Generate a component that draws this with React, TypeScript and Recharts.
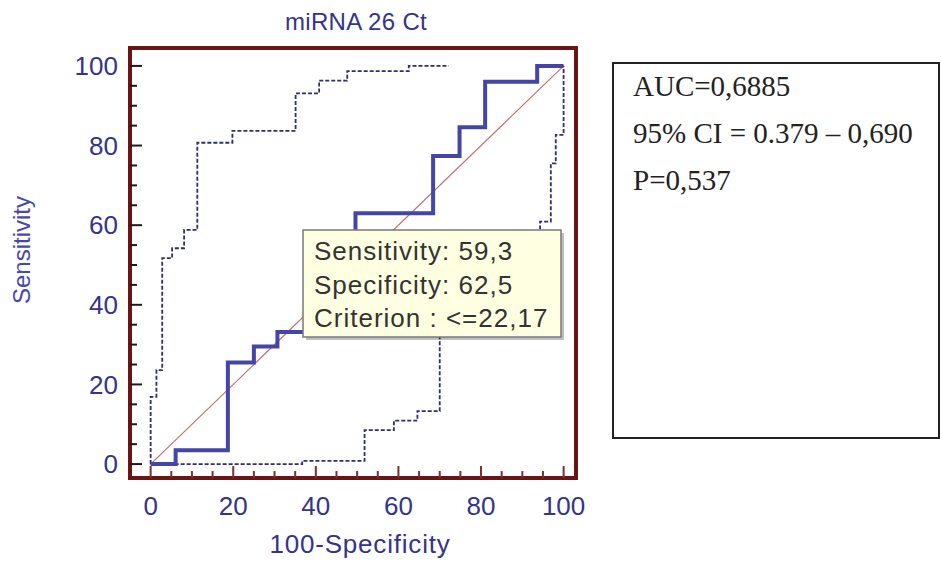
import { ComposedChart, Line, XAxis, YAxis, ReferenceArea, ReferenceLine, Label } from 'recharts';

// ROC curve (100-Specificity, Sensitivity)
const rocFpr = [0, 6.05, 18.7, 25, 30.7, 37.5, 43.7, 49.6, 68.4, 74.8, 81, 93.6, 100];
const rocSens = [0, 3.5, 25.5, 29.5, 33.2, 40.7, 48, 63, 77.4, 84.6, 96, 100, 100];

// upper 95% confidence bound (vertical step first)
const upperFpr = [0, 1.4, 2.8, 5.2, 8.1, 11.3, 19.8, 35.1, 40.8, 47.6, 62.5, 72.2];
const upperSens = [0, 16.9, 23.6, 51.7, 54.2, 58.8, 80.7, 83.7, 93.1, 96.3, 98.7, 100];

// lower 95% confidence bound (horizontal step first)
const lowerFpr = [0, 36.7, 51.8, 58.9, 64.6, 70, 94.3, 96.9, 98.1, 100];
const lowerSens = [0, 0.8, 8.5, 10.9, 13.3, 45, 60.9, 75.5, 82.7, 100];

const diagFpr = [0, 100];
const diagSens = [0, 100];

const majorTicks = [0, 20, 40, 60, 80, 100];
const minorTicks = [5, 10, 15, 25, 30, 35, 45, 50, 55, 65, 70, 75, 85, 90, 95];

const tooltipLines = ['Sensitivity: 59,3', 'Specificity: 62,5', 'Criterion : <=22,17'];
const statsLines = ['AUC=0,6885', '95% CI = 0.379 \u2013 0,690', 'P=0,537'];

const xDomain: [number, number] = [-5, 103];
const yDomain: [number, number] = [-3.5, 104.5];

const toPoints = (xs: number[], ys: number[]) => xs.map((x, i) => ({ x, y: ys[i] }));

const SANS = '"Liberation Sans", Arial, sans-serif';
const SERIF = '"Liberation Serif", "Times New Roman", serif';
const NAVY = '#34348a';
const FRAME = '#6a1414';

// inward tick lengths, in axis units (~12px major, ~7px minor)
const MAJOR_X = 2.9;
const MINOR_X = 1.7;
const MAJOR_Y = 3.0;
const MINOR_Y = 1.75;

function Title() {
  return (
    <text x={356} y={30} textAnchor="middle" fontFamily={SANS} fontSize={24} fill={NAVY} letterSpacing={0.3}>
      miRNA 26 Ct
    </text>
  );
}

export default function App() {
  const roc = toPoints(rocFpr, rocSens);
  const upper = toPoints(upperFpr, upperSens);
  const lower = toPoints(lowerFpr, lowerSens);
  const diag = toPoints(diagFpr, diagSens);

  const xTickMarks = [
    ...majorTicks.map((v) => ({ v, len: MAJOR_Y })),
    ...minorTicks.map((v) => ({ v, len: MINOR_Y })),
  ];
  const yTickMarks = [
    ...majorTicks.map((v) => ({ v, len: MAJOR_X })),
    ...minorTicks.map((v) => ({ v, len: MINOR_X })),
  ];

  return (
    <div style={{ position: 'absolute', left: 0, top: 0, width: 941, height: 567, background: '#fff' }}>
      <ComposedChart width={941} height={567} margin={{ top: 48, right: 365, bottom: 0, left: 0 }}>
        <XAxis
          type="number"
          dataKey="x"
          domain={xDomain}
          ticks={majorTicks}
          height={89}
          tickSize={10}
          tickMargin={9}
          tickLine={false}
          axisLine={false}
          tick={{ fill: NAVY, fontSize: 26, fontFamily: SANS }}
          allowDataOverflow
        >
          <Label
            content={() => (
              <text x={360} y={553} textAnchor="middle" fontFamily={SANS} fontSize={26} fill={NAVY} letterSpacing={0.8}>
                100-Specificity
              </text>
            )}
          />
        </XAxis>
        <YAxis
          type="number"
          domain={yDomain}
          ticks={majorTicks}
          width={130}
          tickSize={6}
          tickMargin={6}
          tickLine={false}
          axisLine={false}
          tick={{ fill: NAVY, fontSize: 26, fontFamily: SANS }}
          allowDataOverflow
        >
          <Label
            content={() => (
              <text
                x={30}
                y={250}
                transform="rotate(-90 30 250)"
                textAnchor="middle"
                fontFamily={SANS}
                fontSize={24}
                fill="#4848aa"
              >
                Sensitivity
              </text>
            )}
          />
        </YAxis>

        {/* inward tick marks along the bottom and left of the frame */}
        {xTickMarks.map((t) => (
          <ReferenceLine
            key={`xt-${t.v}`}
            segment={[{ x: t.v, y: yDomain[0] }, { x: t.v, y: yDomain[0] + t.len }]}
            stroke="#7a3030"
            strokeWidth={2}
            ifOverflow="visible"
          />
        ))}
        {yTickMarks.map((t) => (
          <ReferenceLine
            key={`yt-${t.v}`}
            segment={[{ x: xDomain[0], y: t.v }, { x: xDomain[0] + t.len, y: t.v }]}
            stroke="#2a1515"
            strokeWidth={2}
            ifOverflow="visible"
          />
        ))}

        <Line data={diag} dataKey="y" type="linear" stroke="#c07070" strokeWidth={1.2} dot={false} isAnimationActive={false} />
        <Line data={upper} dataKey="y" type="stepBefore" stroke="#2e2e70" strokeWidth={1.8} strokeDasharray="4 2" dot={false} isAnimationActive={false} />
        <Line data={lower} dataKey="y" type="stepAfter" stroke="#2e2e70" strokeWidth={1.8} strokeDasharray="4 2" dot={false} isAnimationActive={false} />
        <Line data={roc} dataKey="y" type="stepAfter" stroke="#4545a8" strokeWidth={4} dot={false} isAnimationActive={false} />

        <ReferenceArea x1={xDomain[0]} x2={xDomain[1]} y1={yDomain[0]} y2={yDomain[1]} fill="none" stroke={FRAME} strokeWidth={4} ifOverflow="visible" />
        <Title />
      </ComposedChart>

      {/* static overlay: criterion box and statistics panel */}
      <svg width={941} height={567} style={{ position: 'absolute', left: 0, top: 0, pointerEvents: 'none' }}>
        <rect x={306} y={233} width={258} height={107} fill="rgba(0,0,0,0.25)" />
        <rect x={303} y={230} width={258} height={107} fill="#ffffe1" stroke="#7a7a7a" strokeWidth={1.5} />
        {tooltipLines.map((t, i) => (
          <text key={t} x={314} y={260 + i * 33.5} fontFamily={SANS} fontSize={26} fill="#333" letterSpacing={1}>
            {t}
          </text>
        ))}

        <rect x={613} y={63} width={326} height={375} fill="#fff" stroke="#222" strokeWidth={2} />
        {statsLines.map((t, i) => (
          <text key={t} x={633} y={96 + i * 47} fontFamily={SERIF} fontSize={29} fill="#222">
            {t}
          </text>
        ))}
      </svg>
    </div>
  );
}
